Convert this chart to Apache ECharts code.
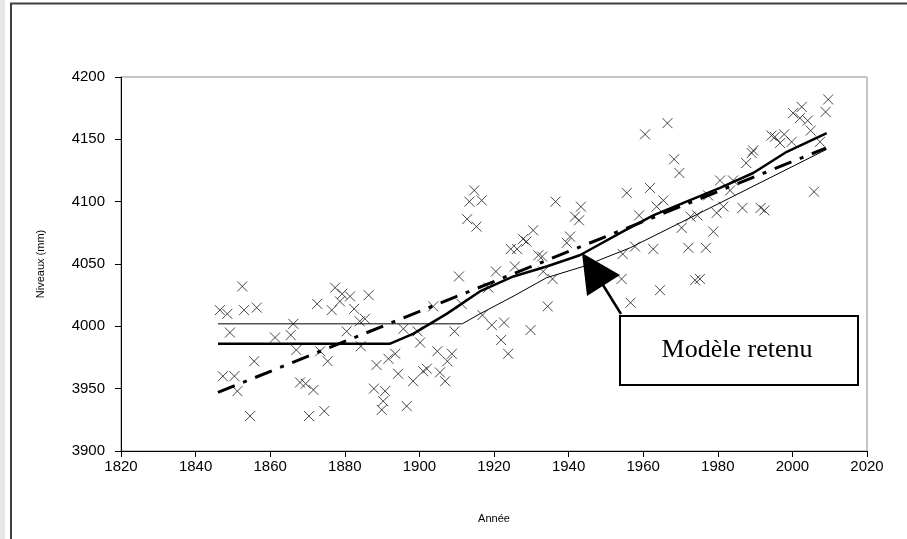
<!DOCTYPE html>
<html><head><meta charset="utf-8">
<script src="https://cdn.jsdelivr.net/npm/echarts@6/dist/echarts.min.js"></script>
<style>html,body{margin:0;padding:0;background:#fff}#c{width:907px;height:539px}</style>
</head><body><div id="c"></div>
<script>
// Observed yearly levels (× markers)
const obsYears = [1846.5,1847.3,1848.5,1849.2,1850.4,1851.2,1852.5,1853,1854.6,1855.7,1856.4,1861.3,1865.5,1866.2,1867,1868,1869.5,1870.4,1871.6,1872.6,1873.4,1874.5,1875.4,1876.5,1877.4,1878.7,1879.3,1880.5,1881.4,1882.5,1884,1884.3,1885.4,1886.4,1887.8,1888.5,1889.9,1890.3,1890.8,1891.7,
1893.5,1894.3,1895.7,1896.6,1898.3,1899.5,1900.2,1901,1902,1903.7,1904.8,1905.5,1906.9,1907.5,1908.7,1909.4,1910.6,1911.3,1912.8,1913.4,1914.7,1915.3,1916.7,1916.9,1918.5,1919.4,1920.5,1921.9,1922.7,1923.8,1924.5,1925.6,1926.2,1927.8,1928.7,1929.8,1930.5,1931.9,1932.9,1933.2,1934.4,1935.7,1936.5,1939.5,1940.4,1941.7,1942.8,1943.3,
1954.2,1954.5,1955.6,1956.6,1957.8,1958.9,1960.5,1961.8,1962.7,1963.6,1964.5,1965.4,1966.5,1968.3,1969.7,1970.3,1972.1,1972.7,1973.9,1974.5,1975.2,1976.8,1977.4,1978.8,1979.7,1980.6,1981.5,1983.3,1984.1,1986.6,1987.6,1989.1,1989.5,1991.5,1992.5,1994.4,1995.3,1996.7,1997.8,1999.8,2000.2,2002,2002.5,2004.1,2004.9,2005.8,2007.4,2008.9,2009.6];
const obsLevels = [4013,3960,4010,3995,3960,3948,4032,4013,3928,3972,4015,3991,3993,4002,3981,3955,3954,3928,3949,4018,3980,3932,3972,4013,4031,4020,4026,3996,4024,4014,4004,3984,4006,4025,3950,3969,3933,3940,3948,3974,
3978,3962,3998,3936,3956,3996,3987,3964,3966,4016,3980,3963,3956,3972,3978,3996,4040,4018,4086,4100,4109,4080,4101,4009,4031,4001,4044,3989,4003,3978,4062,4048,4062,4070,4068,3997,4077,4057,4056,4044,4016,4038,4100,4067,4072,4088,4085,4096,
4038,4058,4107,4019,4064,4089,4154,4111,4062,4096,4029,4101,4163,4134,4123,4079,4063,4088,4037,4089,4038,4063,4105,4076,4091,4117,4096,4109,4117,4095,4131,4139,4141,4095,4093,4153,4152,4147,4154,4148,4171,4167,4176,4165,4157,4108,4148,4172,4182];

// Thin solid model
const thinYears  = [1846,1911.5,1916.2,1925.1,1934.1,1943.9,1956.5,1980.6,2009.2];
const thinLevels = [4002,4002,4010,4024,4039,4048,4063,4099,4142];

// Thick solid model ("Modèle retenu")
const thickYears  = [1846,1892,1898.3,1907.3,1916.2,1925.2,1934.1,1943,1954.5,1962.7,1971.6,1980.6,1989.5,1998.5,2009.2];
const thickLevels = [3986,3986,3994,4010,4028,4040,4048,4057,4076,4089,4100,4111,4123,4140,4155];

// Dash-dot linear trend
const trendYears  = [1846,2009];
const trendLevels = [3947,4143];

const xTickMin = 1820, xTickMax = 2020, xTickStep = 20;
const yTickMin = 3900, yTickMax = 4200, yTickStep = 50;

const pair = (xs, ys) => xs.map((x, i) => [x, ys[i]]);

const chart = echarts.init(document.getElementById('c'), null, {renderer: 'canvas'});
const font = "'Liberation Sans', Arial, sans-serif";
chart.setOption({
  animation: false,
  backgroundColor: '#fff',
  grid: {left: 121, right: 40, top: 77, bottom: 88, show: true, borderColor: '#8c8c8c', borderWidth: 1, backgroundColor: 'transparent'},
  xAxis: {
    type: 'value', min: xTickMin, max: xTickMax, interval: xTickStep,
    name: 'Année', nameLocation: 'middle', nameGap: 62,
    nameTextStyle: {fontFamily: font, fontSize: 11, color: '#000'},
    axisLine: {show: true, lineStyle: {color: '#000', width: 1}},
    axisTick: {show: true, length: 6, lineStyle: {color: '#000'}},
    axisLabel: {fontFamily: font, fontSize: 15, color: '#000', margin: 8, formatter: v => String(v)},
    splitLine: {show: false}
  },
  yAxis: {
    type: 'value', min: yTickMin, max: yTickMax, interval: yTickStep,
    name: 'Niveaux (mm)', nameLocation: 'middle', nameGap: 75, nameRotate: 90,
    nameTextStyle: {fontFamily: font, fontSize: 11, color: '#000'},
    axisLine: {show: true, lineStyle: {color: '#000', width: 1}},
    axisTick: {show: true, length: 6, lineStyle: {color: '#000'}},
    axisLabel: {fontFamily: font, fontSize: 15, color: '#000', margin: 16, formatter: v => String(v)},
    splitLine: {show: false}
  },
  series: [
    {type: 'scatter', data: pair(obsYears, obsLevels),
     symbol: 'path://M0,0L10,10M0,10L10,0', symbolSize: 10,
     itemStyle: {color: 'rgba(0,0,0,0)', borderColor: '#1a1a1a', borderWidth: 1}, z: 2},
    {type: 'line', data: pair(thinYears, thinLevels), showSymbol: false, symbol: 'none',
     lineStyle: {color: '#000', width: 1}, z: 3},
    {type: 'line', data: pair(trendYears, trendLevels), showSymbol: false, symbol: 'none',
     lineStyle: {color: '#000', width: 3, type: [18, 9, 4, 9]}, z: 3},
    {type: 'line', data: pair(thickYears, thickLevels), showSymbol: false, symbol: 'none',
     lineStyle: {color: '#000', width: 2.5}, z: 4}
  ],
  graphic: [
    {type: 'rect', shape: {x: 0, y: 0, width: 5, height: 539}, style: {fill: '#e6e6e6'}, silent: true},
    {type: 'polyline', shape: {points: [[11, 539], [11, 3.5], [907, 3.5]]}, style: {stroke: '#404040', lineWidth: 2, fill: null}, silent: true},
    {type: 'line', shape: {x1: 603, y1: 285, x2: 621, y2: 314}, style: {stroke: '#000', lineWidth: 2.5}, z: 20},
    {type: 'polygon', shape: {points: [[582, 253], [587, 296], [620, 275]]}, style: {fill: '#000'}, z: 20},
    {type: 'rect', shape: {x: 620, y: 316, width: 238, height: 69}, style: {fill: '#fff', stroke: '#000', lineWidth: 2}, z: 20},
    {type: 'text', x: 737, y: 350, style: {text: 'Modèle retenu', font: "26px 'Liberation Serif', 'Times New Roman', serif", fill: '#000', align: 'center', verticalAlign: 'middle'}, z: 21}
  ]
});
</script>
</body></html>
